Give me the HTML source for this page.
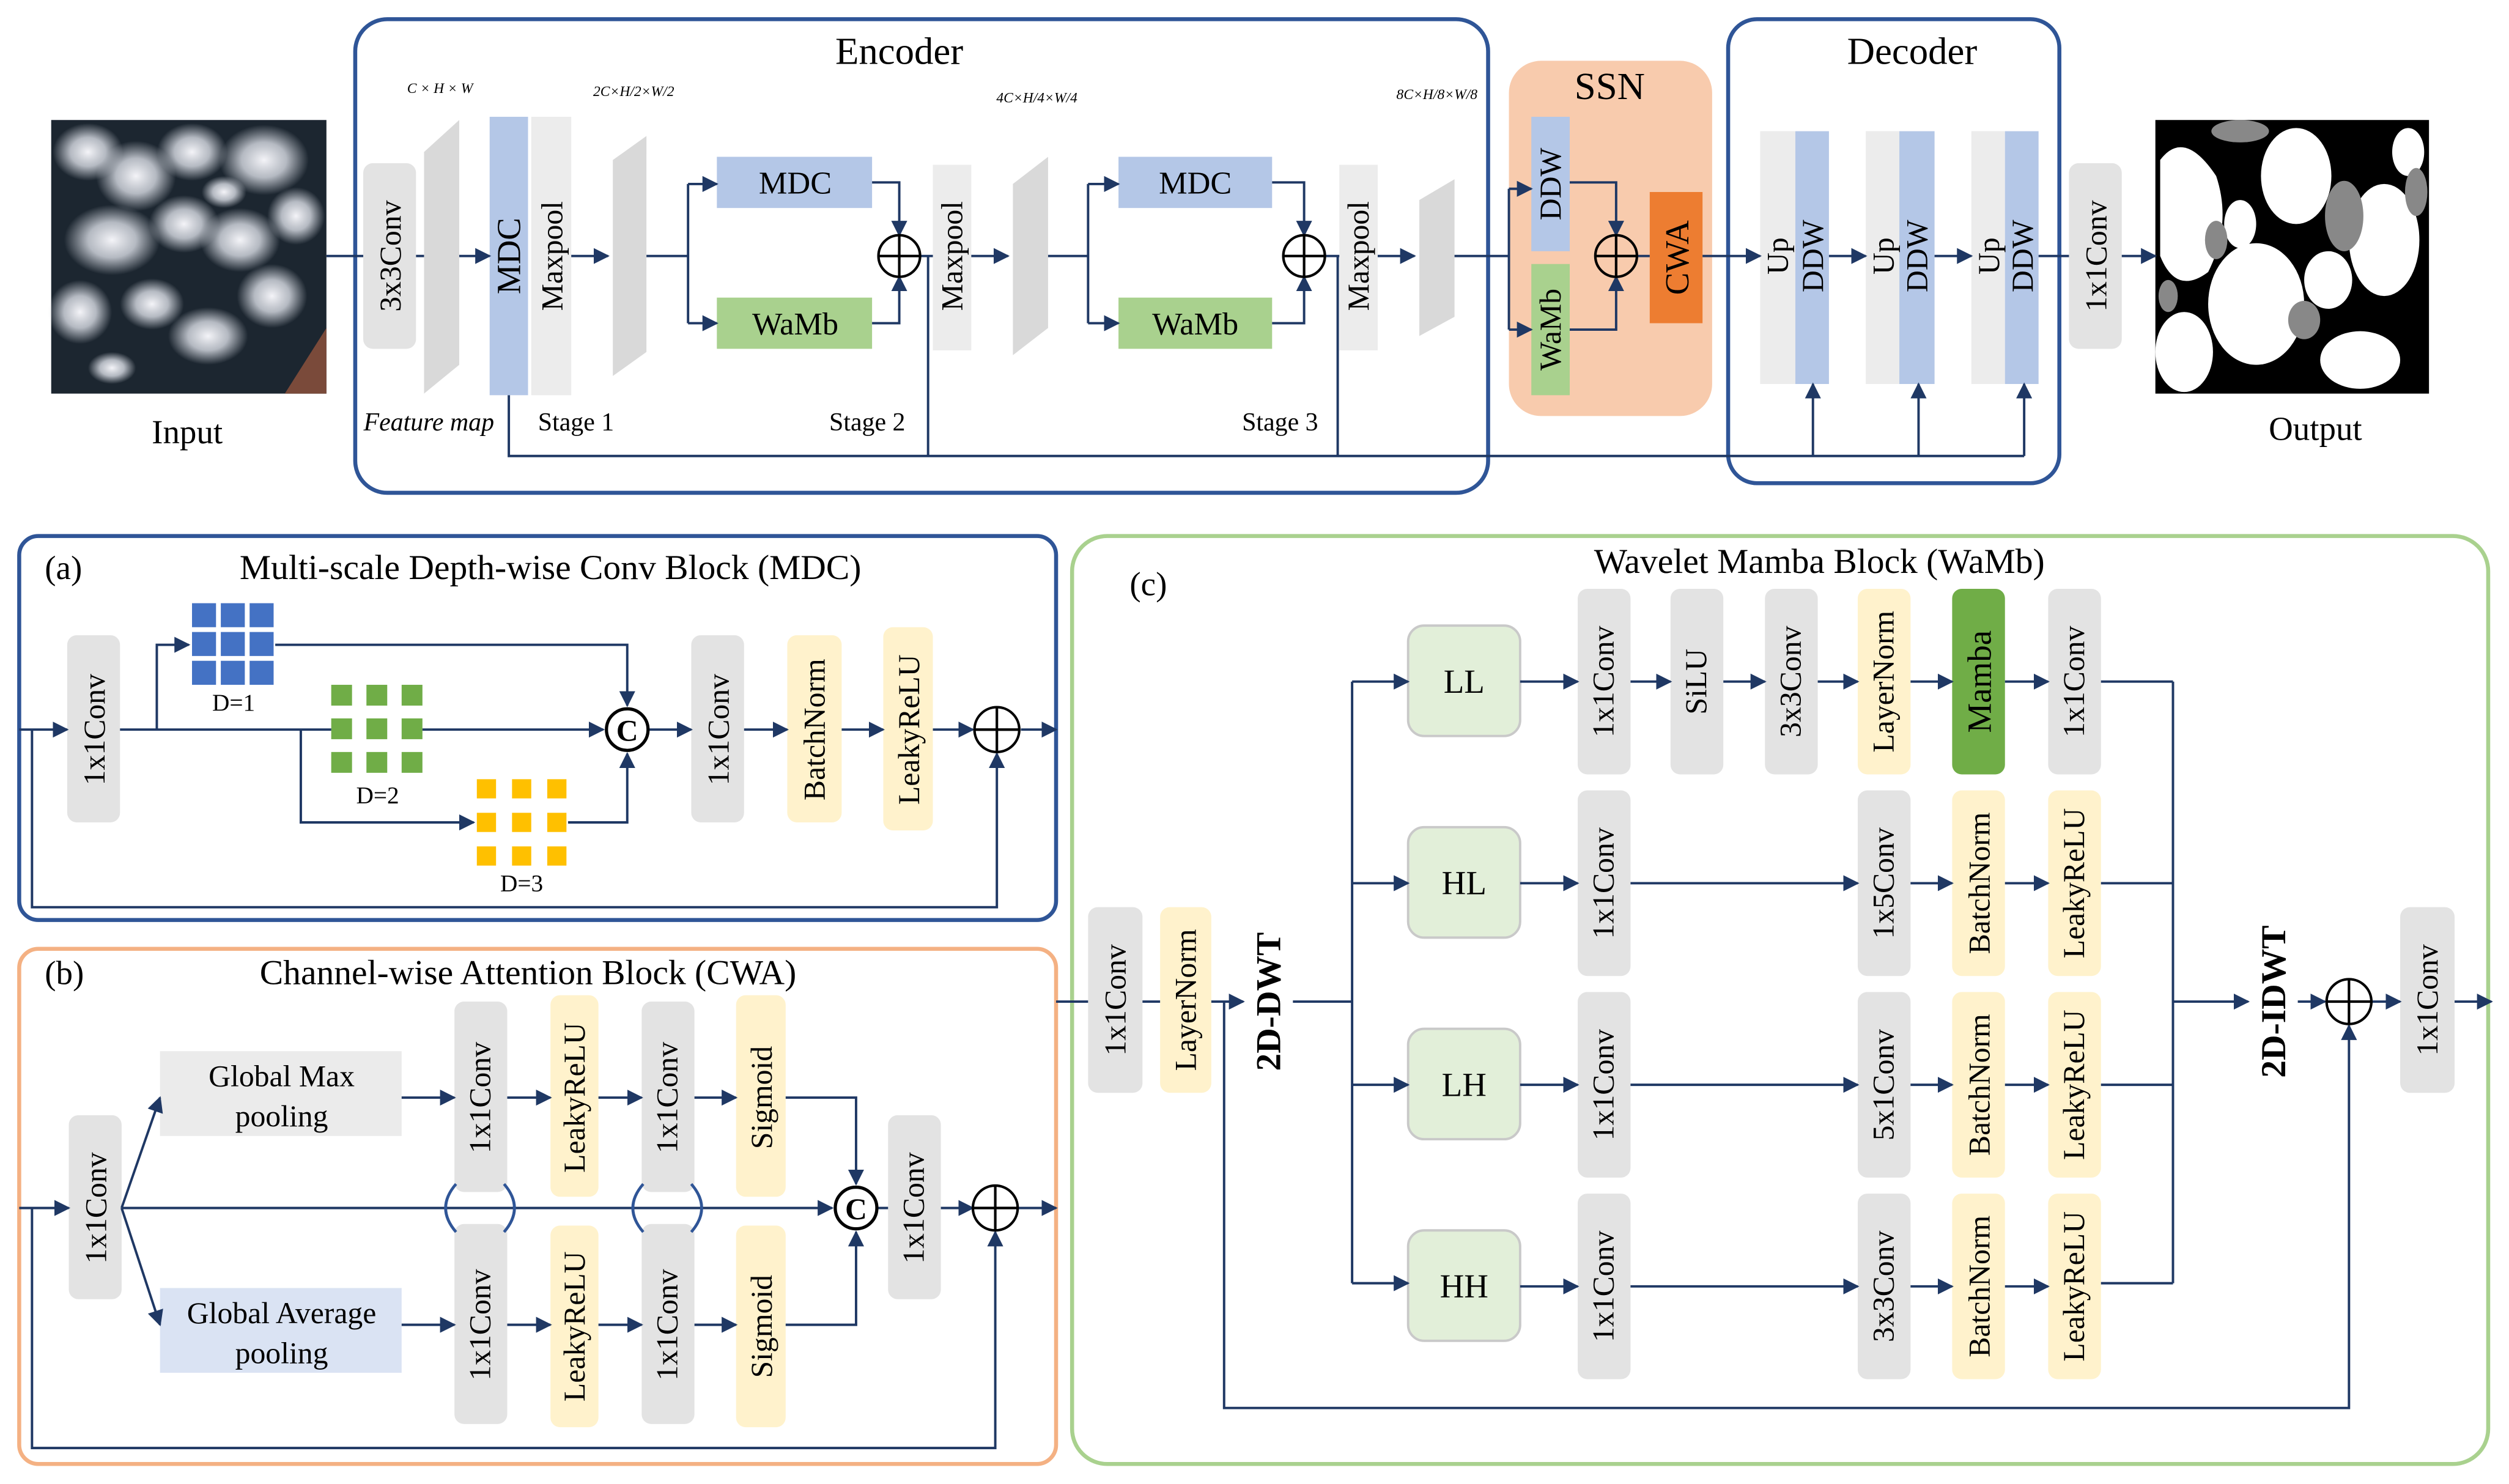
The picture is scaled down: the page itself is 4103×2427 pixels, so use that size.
<!DOCTYPE html>
<html><head><meta charset="utf-8"><style>html,body{margin:0;padding:0;background:#fff}svg{display:block}text{font-family:"Liberation Serif",serif;fill:#000}</style></head><body>
<svg width="4103" height="2427" viewBox="0 0 1568 927.5" xmlns="http://www.w3.org/2000/svg">
<defs>
<marker id="b" viewBox="0 0 10 10" refX="9" refY="5" markerWidth="10" markerHeight="10" orient="auto" markerUnits="userSpaceOnUse"><path d="M0,0L10,5L0,10z" fill="#1f3864"/></marker>
<radialGradient id="cl"><stop offset="0" stop-color="#f4f4f8"/><stop offset="0.5" stop-color="#d0d4dc" stop-opacity="0.85"/><stop offset="1" stop-color="#c8ccd4" stop-opacity="0"/></radialGradient>
</defs>
<g stroke="#1f3864" stroke-width="1.5" fill="none">
<rect x="222" y="12" width="708" height="296" rx="20" stroke="#2f5597" stroke-width="2.5"/>
<rect x="943" y="38" width="127" height="222" rx="20" fill="#f8cbad" stroke="none"/>
<rect x="1080" y="12" width="207" height="290" rx="18" stroke="#2f5597" stroke-width="2.5"/>
<rect x="12" y="335" width="648" height="240" rx="12" stroke="#2f5597" stroke-width="2.5"/>
<rect x="12" y="593" width="648" height="322" rx="12" stroke="#f4b183" stroke-width="2.5"/>
<rect x="670" y="335" width="885" height="580" rx="22" stroke="#a9d18e" stroke-width="2.5"/>
</g>
<!-- input image -->
<rect x="32" y="75" width="172" height="171" fill="#1c2630"/>
<g fill="url(#cl)">
<ellipse cx="55" cy="95" rx="22" ry="18"/><ellipse cx="85" cy="110" rx="25" ry="22"/><ellipse cx="120" cy="95" rx="22" ry="18"/><ellipse cx="165" cy="100" rx="28" ry="22"/>
<ellipse cx="70" cy="150" rx="30" ry="22"/><ellipse cx="115" cy="140" rx="22" ry="18"/><ellipse cx="150" cy="150" rx="25" ry="20"/><ellipse cx="185" cy="135" rx="18" ry="18"/>
<ellipse cx="50" cy="195" rx="20" ry="20"/><ellipse cx="95" cy="190" rx="20" ry="16"/><ellipse cx="130" cy="210" rx="25" ry="18"/><ellipse cx="170" cy="185" rx="22" ry="20"/>
<ellipse cx="70" cy="230" rx="15" ry="10"/><ellipse cx="140" cy="120" rx="14" ry="10"/>
</g>
<path d="M178,246 L204,205 L204,246z" fill="#7a4a3a"/>
<!-- output image -->
<rect x="1347" y="75" width="171" height="171" fill="#000"/>
<g fill="#fff">
<path d="M1350,100 Q1365,80 1385,110 Q1395,140 1380,170 Q1360,185 1350,160z"/>
<ellipse cx="1435" cy="110" rx="22" ry="30"/><ellipse cx="1410" cy="190" rx="30" ry="38"/>
<ellipse cx="1490" cy="150" rx="22" ry="35"/><ellipse cx="1365" cy="220" rx="18" ry="25"/><ellipse cx="1475" cy="225" rx="25" ry="18"/>
<ellipse cx="1455" cy="175" rx="15" ry="18"/><ellipse cx="1505" cy="95" rx="10" ry="15"/><ellipse cx="1400" cy="140" rx="10" ry="15"/>
</g>
<g fill="#888"><ellipse cx="1400" cy="82" rx="18" ry="7"/><ellipse cx="1465" cy="135" rx="12" ry="22"/><ellipse cx="1385" cy="150" rx="7" ry="12"/><ellipse cx="1510" cy="120" rx="7" ry="15"/><ellipse cx="1440" cy="200" rx="10" ry="12"/><ellipse cx="1355" cy="185" rx="6" ry="10"/></g>
<text x="117" y="277" font-size="21" text-anchor="middle">Input</text>
<text x="1447" y="275" font-size="21" text-anchor="middle">Output</text>
<text x="562" y="40" font-size="24" text-anchor="middle">Encoder</text>
<text x="1195" y="40" font-size="24" text-anchor="middle">Decoder</text>
<text x="1006" y="62" font-size="24" text-anchor="middle">SSN</text>
<g font-size="9" font-style="italic" text-anchor="middle">
<text x="275" y="58">C × H × W</text>
<text x="396" y="60">2C×H/2×W/2</text>
<text x="648" y="64">4C×H/4×W/4</text>
<text x="898" y="62">8C×H/8×W/8</text>
</g>
<g font-size="16" text-anchor="middle">
<text x="268" y="269" font-style="italic">Feature map</text>
<text x="360" y="269">Stage 1</text><text x="542" y="269">Stage 2</text><text x="800" y="269">Stage 3</text>
</g>
<g fill="#d9d9d9">
<path d="M265,95 L287,75 L287,228 L265,246z"/><path d="M383,100 L404,85 L404,220 L383,235z"/>
<path d="M633,115 L655,98 L655,205 L633,222z"/><path d="M887,125 L909,112 L909,198 L887,210z"/>
</g>
<rect x="227" y="102" width="33" height="116" rx="6" fill="#e3e3e3"/>
<rect x="306" y="73" width="24" height="174" fill="#b4c7e7"/>
<rect x="332" y="73" width="25" height="174" fill="#ececec"/>
<rect x="583" y="103" width="24" height="116" fill="#ececec"/>
<rect x="837" y="103" width="24" height="116" fill="#ececec"/>
<rect x="448" y="98" width="97" height="32" fill="#b4c7e7"/><rect x="448" y="186" width="97" height="32" fill="#a9d18e"/>
<rect x="699" y="98" width="96" height="32" fill="#b4c7e7"/><rect x="699" y="186" width="96" height="32" fill="#a9d18e"/>
<g font-size="20" text-anchor="middle">
<text x="497" y="121">MDC</text><text x="497" y="209">WaMb</text><text x="747" y="121">MDC</text><text x="747" y="209">WaMb</text>
</g>
<rect x="957" y="73" width="24" height="84" fill="#b4c7e7"/><rect x="957" y="165" width="24" height="82" fill="#a9d18e"/>
<rect x="1031" y="120" width="33" height="82" fill="#ed7d31"/>
<g fill="#ececec"><rect x="1100" y="82" width="22" height="158"/><rect x="1166" y="82" width="21" height="158"/><rect x="1232" y="82" width="21" height="158"/></g>
<g fill="#b4c7e7"><rect x="1122" y="82" width="21" height="158"/><rect x="1187" y="82" width="22" height="158"/><rect x="1253" y="82" width="21" height="158"/></g>
<rect x="1293" y="102" width="33" height="116" rx="6" fill="#e3e3e3"/>
<g font-size="19" text-anchor="middle" dominant-baseline="central">
<text transform="translate(244,160) rotate(-90)">3x3Conv</text>
<text transform="translate(318,160) rotate(-90)" font-size="21">MDC</text>
<text transform="translate(345,160) rotate(-90)">Maxpool</text>
<text transform="translate(595,160) rotate(-90)">Maxpool</text>
<text transform="translate(849,160) rotate(-90)">Maxpool</text>
<text transform="translate(969,115) rotate(-90)">DDW</text>
<text transform="translate(969,206) rotate(-90)">WaMb</text>
<text transform="translate(1048,161) rotate(-90)" font-size="21">CWA</text>
<text transform="translate(1111,160) rotate(-90)">Up</text><text transform="translate(1133,160) rotate(-90)">DDW</text>
<text transform="translate(1177,160) rotate(-90)">Up</text><text transform="translate(1198,160) rotate(-90)">DDW</text>
<text transform="translate(1243,160) rotate(-90)">Up</text><text transform="translate(1264,160) rotate(-90)">DDW</text>
<text transform="translate(1310,160) rotate(-90)">1x1Conv</text>
</g>
<g stroke="#1f3864" stroke-width="1.5" fill="none">
<path d="M204,160H227"/><path d="M260,160H265"/><path d="M287,160H306" marker-end="url(#b)"/>
<path d="M357,160H380" marker-end="url(#b)"/>
<path d="M404,160H430M430,115V202"/><path d="M430,115H448" marker-end="url(#b)"/><path d="M430,202H448" marker-end="url(#b)"/>
<path d="M545,114H562V147" marker-end="url(#b)"/><path d="M545,202H562V173" marker-end="url(#b)"/>
<path d="M575,160H583"/><path d="M607,160H630" marker-end="url(#b)"/>
<path d="M655,160H680M680,115V202"/><path d="M680,115H699" marker-end="url(#b)"/><path d="M680,202H699" marker-end="url(#b)"/>
<path d="M795,114H815V147" marker-end="url(#b)"/><path d="M795,202H815V173" marker-end="url(#b)"/>
<path d="M828,160H837"/><path d="M861,160H884" marker-end="url(#b)"/>
<path d="M909,160H943M943,118V206"/><path d="M943,118H957" marker-end="url(#b)"/><path d="M943,206H957" marker-end="url(#b)"/>
<path d="M981,114H1010V147" marker-end="url(#b)"/><path d="M981,206H1010V173" marker-end="url(#b)"/>
<path d="M1023,160H1031"/><path d="M1064,160H1100" marker-end="url(#b)"/>
<path d="M1143,160H1166" marker-end="url(#b)"/><path d="M1209,160H1232" marker-end="url(#b)"/>
<path d="M1274,160H1293"/><path d="M1326,160H1347" marker-end="url(#b)"/>
<path d="M318,247V285H1265"/><path d="M580,160V285"/><path d="M836,160V285"/>
<path d="M1133,285V240" marker-end="url(#b)"/><path d="M1199,285V240" marker-end="url(#b)"/><path d="M1265,285V240" marker-end="url(#b)"/>
</g>
<g stroke="#000" stroke-width="1.6" fill="none">
<circle cx="562" cy="160" r="13"/><path d="M549,160H575M562,147V173"/>
<circle cx="815" cy="160" r="13"/><path d="M802,160H828M815,147V173"/>
<circle cx="1010" cy="160" r="13"/><path d="M997,160H1023M1010,147V173"/>
</g>

<text x="28" y="362" font-size="21">(a)</text>
<text x="344" y="362" font-size="22" text-anchor="middle">Multi-scale Depth-wise Conv Block (MDC)</text>
<rect x="42" y="397" width="33" height="117" rx="6" fill="#e3e3e3"/>
<rect x="432" y="397" width="33" height="117" rx="6" fill="#e3e3e3"/>
<rect x="492" y="397" width="34" height="117" rx="6" fill="#fff2cc"/>
<rect x="552" y="392" width="31" height="127" rx="6" fill="#fff2cc"/>
<g fill="#4472c4">
<rect x="120" y="377" width="15" height="15"/><rect x="138" y="377" width="15" height="15"/><rect x="156" y="377" width="15" height="15"/>
<rect x="120" y="395" width="15" height="15"/><rect x="138" y="395" width="15" height="15"/><rect x="156" y="395" width="15" height="15"/>
<rect x="120" y="413" width="15" height="15"/><rect x="138" y="413" width="15" height="15"/><rect x="156" y="413" width="15" height="15"/>
</g>
<g fill="#70ad47">
<rect x="207" y="428" width="13" height="13"/><rect x="229" y="428" width="13" height="13"/><rect x="251" y="428" width="13" height="13"/>
<rect x="207" y="449" width="13" height="13"/><rect x="229" y="449" width="13" height="13"/><rect x="251" y="449" width="13" height="13"/>
<rect x="207" y="470" width="13" height="13"/><rect x="229" y="470" width="13" height="13"/><rect x="251" y="470" width="13" height="13"/>
</g>
<g fill="#ffc000">
<rect x="298" y="487" width="12" height="12"/><rect x="320" y="487" width="12" height="12"/><rect x="342" y="487" width="12" height="12"/>
<rect x="298" y="508" width="12" height="12"/><rect x="320" y="508" width="12" height="12"/><rect x="342" y="508" width="12" height="12"/>
<rect x="298" y="529" width="12" height="12"/><rect x="320" y="529" width="12" height="12"/><rect x="342" y="529" width="12" height="12"/>
</g>
<g font-size="15" text-anchor="middle"><text x="146" y="444">D=1</text><text x="236" y="502">D=2</text><text x="326" y="557">D=3</text></g>
<g font-size="19" text-anchor="middle" dominant-baseline="central">
<text transform="translate(59,456) rotate(-90)">1x1Conv</text>
<text transform="translate(449,456) rotate(-90)">1x1Conv</text>
<text transform="translate(509,456) rotate(-90)">BatchNorm</text>
<text transform="translate(568,456) rotate(-90)">LeakyReLU</text>
</g>
<g stroke="#1f3864" stroke-width="1.5" fill="none">
<path d="M12,456H42" marker-end="url(#b)"/>
<path d="M75,456H207"/><path d="M264,456H377" marker-end="url(#b)"/>
<path d="M98,456V403H118" marker-end="url(#b)"/><path d="M172,403H392V441" marker-end="url(#b)"/>
<path d="M188,456V514H296" marker-end="url(#b)"/><path d="M355,514H392V471" marker-end="url(#b)"/>
<path d="M405,456H432" marker-end="url(#b)"/><path d="M465,456H492" marker-end="url(#b)"/><path d="M526,456H552" marker-end="url(#b)"/>
<path d="M583,456H608" marker-end="url(#b)"/><path d="M638,456H660" marker-end="url(#b)"/>
<path d="M20,456V567H623V471" marker-end="url(#b)"/>
</g>
<g stroke="#000" stroke-width="1.6" fill="none"><circle cx="623" cy="456" r="14"/><path d="M609,456H637M623,442V470"/><circle cx="392" cy="456" r="13" stroke-width="2"/></g>
<text x="392" y="463" font-size="19" font-weight="bold" text-anchor="middle">C</text>

<text x="28" y="615" font-size="21">(b)</text>
<text x="330" y="615" font-size="22" text-anchor="middle">Channel-wise Attention Block (CWA)</text>
<rect x="43" y="697" width="33" height="115" rx="6" fill="#e3e3e3"/>
<rect x="100" y="657" width="151" height="53" fill="#ebebeb"/>
<rect x="100" y="805" width="151" height="53" fill="#dae3f3"/>
<g font-size="19" text-anchor="middle">
<text x="176" y="679">Global Max</text><text x="176" y="704">pooling</text>
<text x="176" y="827">Global Average</text><text x="176" y="852">pooling</text>
</g>
<g fill="#e3e3e3"><rect x="284" y="626" width="33" height="119" rx="6"/><rect x="401" y="626" width="33" height="119" rx="6"/><rect x="284" y="765" width="33" height="125" rx="6"/><rect x="401" y="765" width="33" height="125" rx="6"/><rect x="555" y="697" width="33" height="115" rx="6"/></g>
<g fill="#fff2cc"><rect x="344" y="622" width="30" height="126" rx="6"/><rect x="460" y="622" width="31" height="126" rx="6"/><rect x="344" y="766" width="30" height="126" rx="6"/><rect x="460" y="766" width="31" height="126" rx="6"/></g>
<g font-size="19" text-anchor="middle" dominant-baseline="central">
<text transform="translate(60,755) rotate(-90)">1x1Conv</text>
<text transform="translate(300,686) rotate(-90)">1x1Conv</text><text transform="translate(359,686) rotate(-90)">LeakyReLU</text>
<text transform="translate(417,686) rotate(-90)">1x1Conv</text><text transform="translate(476,686) rotate(-90)">Sigmoid</text>
<text transform="translate(300,828) rotate(-90)">1x1Conv</text><text transform="translate(359,829) rotate(-90)">LeakyReLU</text>
<text transform="translate(417,828) rotate(-90)">1x1Conv</text><text transform="translate(476,829) rotate(-90)">Sigmoid</text>
<text transform="translate(571,755) rotate(-90)">1x1Conv</text>
</g>
<g stroke="#1f3864" stroke-width="1.5" fill="none">
<path d="M12,755H43" marker-end="url(#b)"/>
<path d="M76,755L100,686" marker-end="url(#b)"/><path d="M76,755L100,828" marker-end="url(#b)"/>
<path d="M76,755H520" marker-end="url(#b)"/>
<path d="M251,686H284" marker-end="url(#b)"/><path d="M317,686H344" marker-end="url(#b)"/><path d="M374,686H401" marker-end="url(#b)"/><path d="M434,686H460" marker-end="url(#b)"/>
<path d="M251,828H284" marker-end="url(#b)"/><path d="M317,828H344" marker-end="url(#b)"/><path d="M374,828H401" marker-end="url(#b)"/><path d="M434,828H460" marker-end="url(#b)"/>
<path d="M491,686H535V740" marker-end="url(#b)"/><path d="M491,828H535V770" marker-end="url(#b)"/>
<path d="M548,755H555"/><path d="M588,755H608" marker-end="url(#b)"/><path d="M636,755H660" marker-end="url(#b)"/>
<path d="M20,755V905H622V770" marker-end="url(#b)"/>
</g>
<g stroke="#2f5597" stroke-width="1.8" fill="none">
<path d="M285,740Q272,755 285,770"/><path d="M315,740Q328,755 315,770"/>
<path d="M402,740Q389,755 402,770"/><path d="M432,740Q445,755 432,770"/>
</g>
<g stroke="#000" stroke-width="1.6" fill="none"><circle cx="622" cy="755" r="14"/><path d="M608,755H636M622,741V769"/><circle cx="535" cy="755" r="13" stroke-width="2"/></g>
<text x="535" y="762" font-size="19" font-weight="bold" text-anchor="middle">C</text>

<text x="1137" y="358" font-size="22" text-anchor="middle">Wavelet Mamba Block (WaMb)</text>
<text x="706" y="372" font-size="21">(c)</text>
<rect x="680" y="567" width="34" height="116" rx="6" fill="#e3e3e3"/>
<rect x="725" y="567" width="32" height="116" rx="6" fill="#fff2cc"/>
<rect x="1500" y="567" width="34" height="116" rx="6" fill="#e3e3e3"/>
<g fill="#e2efd9" stroke="#c9c9c9" stroke-width="1.5">
<rect x="880" y="391" width="70" height="69" rx="10"/><rect x="880" y="517" width="70" height="69" rx="10"/>
<rect x="880" y="643" width="70" height="69" rx="10"/><rect x="880" y="769" width="70" height="69" rx="10"/>
</g>
<g font-size="21" text-anchor="middle"><text x="915" y="433">LL</text><text x="915" y="559">HL</text><text x="915" y="685">LH</text><text x="915" y="811">HH</text></g>
<g fill="#e3e3e3">
<rect x="986" y="368" width="33" height="116" rx="6"/><rect x="1044" y="368" width="33" height="116" rx="6"/><rect x="1103" y="368" width="33" height="116" rx="6"/><rect x="1280" y="368" width="33" height="116" rx="6"/>
<rect x="986" y="494" width="33" height="116" rx="6"/><rect x="986" y="620" width="33" height="116" rx="6"/><rect x="986" y="746" width="33" height="116" rx="6"/>
<rect x="1161" y="494" width="33" height="116" rx="6"/><rect x="1161" y="620" width="33" height="116" rx="6"/><rect x="1161" y="746" width="33" height="116" rx="6"/>
</g>
<g fill="#fff2cc">
<rect x="1161" y="368" width="33" height="116" rx="6"/>
<rect x="1220" y="494" width="33" height="116" rx="6"/><rect x="1220" y="620" width="33" height="116" rx="6"/><rect x="1220" y="746" width="33" height="116" rx="6"/>
<rect x="1280" y="494" width="33" height="116" rx="6"/><rect x="1280" y="620" width="33" height="116" rx="6"/><rect x="1280" y="746" width="33" height="116" rx="6"/>
</g>
<rect x="1220" y="368" width="33" height="116" rx="6" fill="#70ad47"/>
<g font-size="19" text-anchor="middle" dominant-baseline="central">
<text transform="translate(697,625) rotate(-90)">1x1Conv</text>
<text transform="translate(741,625) rotate(-90)">LayerNorm</text>
<text transform="translate(1517,625) rotate(-90)">1x1Conv</text>
<text transform="translate(1002,426) rotate(-90)">1x1Conv</text><text transform="translate(1060,426) rotate(-90)">SiLU</text>
<text transform="translate(1119,426) rotate(-90)">3x3Conv</text><text transform="translate(1177,426) rotate(-90)">LayerNorm</text>
<text transform="translate(1237,426) rotate(-90)" font-size="21">Mamba</text><text transform="translate(1296,426) rotate(-90)">1x1Conv</text>
<text transform="translate(1002,552) rotate(-90)">1x1Conv</text><text transform="translate(1177,552) rotate(-90)">1x5Conv</text>
<text transform="translate(1237,552) rotate(-90)">BatchNorm</text><text transform="translate(1296,552) rotate(-90)">LeakyReLU</text>
<text transform="translate(1002,678) rotate(-90)">1x1Conv</text><text transform="translate(1177,678) rotate(-90)">5x1Conv</text>
<text transform="translate(1237,678) rotate(-90)">BatchNorm</text><text transform="translate(1296,678) rotate(-90)">LeakyReLU</text>
<text transform="translate(1002,804) rotate(-90)">1x1Conv</text><text transform="translate(1177,804) rotate(-90)">3x3Conv</text>
<text transform="translate(1237,804) rotate(-90)">BatchNorm</text><text transform="translate(1296,804) rotate(-90)">LeakyReLU</text>
<text transform="translate(793,626) rotate(-90)" font-size="22" font-weight="bold">2D-DWT</text>
<text transform="translate(1421,626) rotate(-90)" font-size="22" font-weight="bold">2D-IDWT</text>
</g>
<g stroke="#1f3864" stroke-width="1.5" fill="none">
<path d="M660,626H680"/><path d="M714,626H725"/><path d="M757,626H777" marker-end="url(#b)"/>
<path d="M808,626H845M845,426V802"/>
<path d="M845,426H880" marker-end="url(#b)"/><path d="M845,552H880" marker-end="url(#b)"/><path d="M845,678H880" marker-end="url(#b)"/><path d="M845,802H880" marker-end="url(#b)"/>
<path d="M950,426H986" marker-end="url(#b)"/><path d="M1019,426H1044" marker-end="url(#b)"/><path d="M1077,426H1103" marker-end="url(#b)"/><path d="M1136,426H1161" marker-end="url(#b)"/><path d="M1194,426H1220" marker-end="url(#b)"/><path d="M1253,426H1280" marker-end="url(#b)"/>
<path d="M950,552H986" marker-end="url(#b)"/><path d="M1019,552H1161" marker-end="url(#b)"/><path d="M1194,552H1220" marker-end="url(#b)"/><path d="M1253,552H1280" marker-end="url(#b)"/>
<path d="M950,678H986" marker-end="url(#b)"/><path d="M1019,678H1161" marker-end="url(#b)"/><path d="M1194,678H1220" marker-end="url(#b)"/><path d="M1253,678H1280" marker-end="url(#b)"/>
<path d="M950,804H986" marker-end="url(#b)"/><path d="M1019,804H1161" marker-end="url(#b)"/><path d="M1194,804H1220" marker-end="url(#b)"/><path d="M1253,804H1280" marker-end="url(#b)"/>
<path d="M1313,426H1358M1313,552H1358M1313,678H1358M1313,802H1358M1358,426V802"/>
<path d="M1358,626H1405" marker-end="url(#b)"/>
<path d="M1436,626H1453" marker-end="url(#b)"/><path d="M1482,626H1500" marker-end="url(#b)"/><path d="M1534,626H1557" marker-end="url(#b)"/>
<path d="M765,626V880H1468V641" marker-end="url(#b)"/>
</g>
<g stroke="#000" stroke-width="1.6" fill="none"><circle cx="1468" cy="626" r="14"/><path d="M1454,626H1482M1468,612V640"/></g>
</svg>
</body></html>
